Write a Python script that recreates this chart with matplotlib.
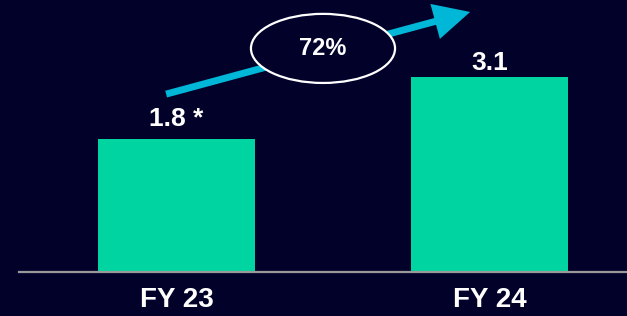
import matplotlib
matplotlib.use("Agg")
import matplotlib.pyplot as plt
from matplotlib.patches import Ellipse

# data
years = ["FY 23", "FY 24"]
values = [1.8, 3.1]
value_labels = ["1.8 *", "3.1"]
growth_label = "72%"

BG = "#02012a"
BAR = "#00d4a1"
ARROW = "#00b7d8"

plt.rcParams["font.family"] = ["Liberation Sans", "DejaVu Sans"]

fig = plt.figure(figsize=(6.27, 3.16), dpi=100, facecolor=BG)
ax = fig.add_axes([19 / 627, 44 / 316, 608 / 627, 272 / 316])
ax.set_facecolor(BG)

# axis does not start at zero in the original slide
base = -0.99
x = range(len(years))
ax.bar(x, [v - base for v in values], bottom=base, width=0.502, color=BAR)
ax.set_xlim(-0.503, 1.439)
ax.set_ylim(base, 4.71)

offsets = [14, 10]
for i, (v, lab) in enumerate(zip(values, value_labels)):
    ax.annotate(lab, (i, v), xytext=(0, offsets[i]), textcoords="offset points",
                ha="center", va="center", color="white", fontsize=19, fontweight="bold")

ax.set_xticks(list(x))
ax.set_xticklabels(years, color="white", fontsize=20, fontweight="bold")
ax.tick_params(axis="x", length=0, pad=11)
ax.set_yticks([])
for s in ["top", "right", "left"]:
    ax.spines[s].set_visible(False)
ax.spines["bottom"].set_color("#9a9a9a")
ax.spines["bottom"].set_linewidth(1.6)

# growth arrow and bubble
ax.annotate("", xy=(0.742, 0.956), xytext=(0.242, 0.654), xycoords="axes fraction",
            arrowprops=dict(arrowstyle="-|>,head_length=0.9,head_width=0.45",
                            lw=5, color=ARROW, mutation_scale=20, shrinkA=0, shrinkB=0,
                            joinstyle="miter", capstyle="butt"))
ax.add_patch(Ellipse((0.500, 0.822), 0.237, 0.254, transform=ax.transAxes,
                     facecolor=BG, edgecolor="white", lw=1.6, zorder=5))
ax.text(0.500, 0.822, growth_label, transform=ax.transAxes, ha="center", va="center",
        color="white", fontsize=17, fontweight="bold", zorder=6)

fig.savefig("out.png", dpi=100, facecolor=BG)
